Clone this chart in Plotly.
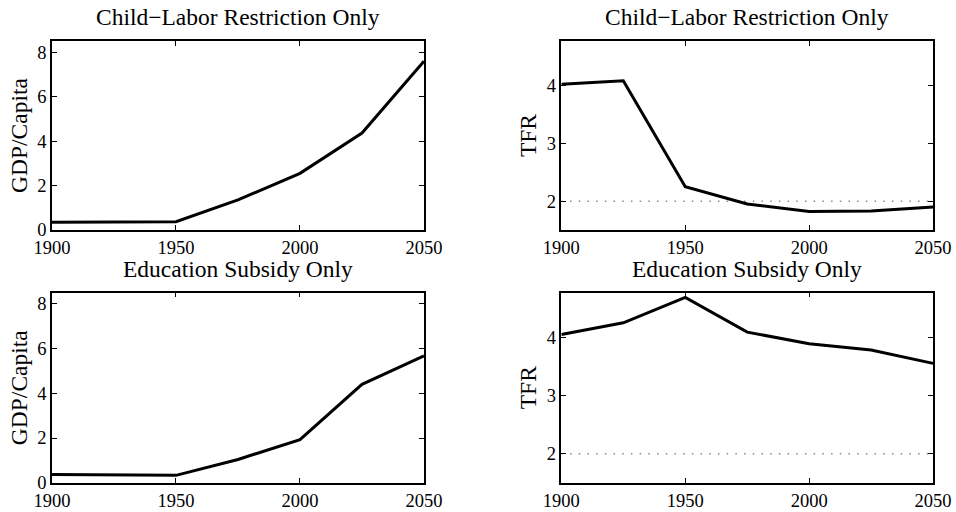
import plotly.graph_objects as go
from plotly.subplots import make_subplots

years = [1900, 1925, 1950, 1975, 2000, 2025, 2050]

# Child-labor restriction only
gdp_child_labor = [0.35, 0.35, 0.37, 1.35, 2.55, 4.36, 7.59]
tfr_child_labor = [4.03, 4.09, 2.25, 1.95, 1.82, 1.83, 1.90]

# Education subsidy only
gdp_education = [0.37, 0.36, 0.33, 1.04, 1.93, 4.40, 5.67]
tfr_education = [4.06, 4.26, 4.70, 4.10, 3.90, 3.79, 3.56]

replacement_tfr = 2
panel_titles = ["Child\u2212Labor Restriction Only", "Child\u2212Labor Restriction Only",
                "Education Subsidy Only", "Education Subsidy Only"]
x_ticks = [1900, 1950, 2000, 2050]
gdp_ticks = [0, 2, 4, 6, 8]
tfr_ticks = [2, 3, 4]

FONT = "Liberation Serif"

fig = make_subplots(rows=2, cols=2)

line_style = dict(color="black", width=3)
dot_style = dict(color="#8a8a8a", width=1.5, dash="1.5px,7.2px")

fig.add_trace(go.Scatter(x=years, y=gdp_child_labor, mode="lines", line=line_style), row=1, col=1)
fig.add_trace(go.Scatter(x=[years[0], years[-1]], y=[replacement_tfr] * 2, mode="lines", line=dot_style), row=1, col=2)
fig.add_trace(go.Scatter(x=years, y=tfr_child_labor, mode="lines", line=line_style), row=1, col=2)
fig.add_trace(go.Scatter(x=years, y=gdp_education, mode="lines", line=line_style), row=2, col=1)
fig.add_trace(go.Scatter(x=[years[0], years[-1]], y=[replacement_tfr] * 2, mode="lines", line=dot_style), row=2, col=2)
fig.add_trace(go.Scatter(x=years, y=tfr_education, mode="lines", line=line_style), row=2, col=2)

# panel placement in paper coordinates
x_domains = {1: [0.0544, 0.4435], 2: [0.5872, 0.9760]}
y_domains = {1: [0.5508, 0.9199], 2: [0.0572, 0.4283]}

axis_common = dict(
    showline=True, linecolor="black", linewidth=1.5, mirror="ticks",
    ticks="inside", ticklen=5, tickcolor="black", tickwidth=1,
    showgrid=False, zeroline=False, automargin=False,
    tickfont=dict(family=FONT, size=18.5, color="black"),
)
label_font = dict(family=FONT, size=23.5, color="black")

for r in (1, 2):
    for c in (1, 2):
        fig.update_xaxes(domain=x_domains[c], range=[1900, 2050], tickvals=x_ticks,
                         row=r, col=c, **axis_common)
        if c == 1:
            fig.update_yaxes(domain=y_domains[r], range=[0, 8.5], tickvals=gdp_ticks,
                             title=dict(text="GDP/Capita", font=label_font, standoff=3),
                             row=r, col=c, **axis_common)
        else:
            fig.update_yaxes(domain=y_domains[r], range=[1.5, 4.78], tickvals=tfr_ticks,
                             title=dict(text="TFR", font=label_font, standoff=3),
                             row=r, col=c, **axis_common)

annotations = []
for i, title in enumerate(panel_titles):
    r, c = i // 2 + 1, i % 2 + 1
    annotations.append(dict(
        x=sum(x_domains[c]) / 2, y=y_domains[r][1],
        xref="paper", yref="paper", xanchor="center", yanchor="bottom",
        yshift=9, text=title, showarrow=False, font=label_font,
    ))

fig.update_layout(
    annotations=annotations,
    showlegend=False,
    plot_bgcolor="white",
    paper_bgcolor="white",
    width=956,
    height=512,
    margin=dict(l=0, r=0, t=0, b=0),
)

# drop the browser's default body margin so the figure fills the window
fig.write_html("out.html", config={"displayModeBar": False},
               post_script="document.body.style.margin = '0px';")
